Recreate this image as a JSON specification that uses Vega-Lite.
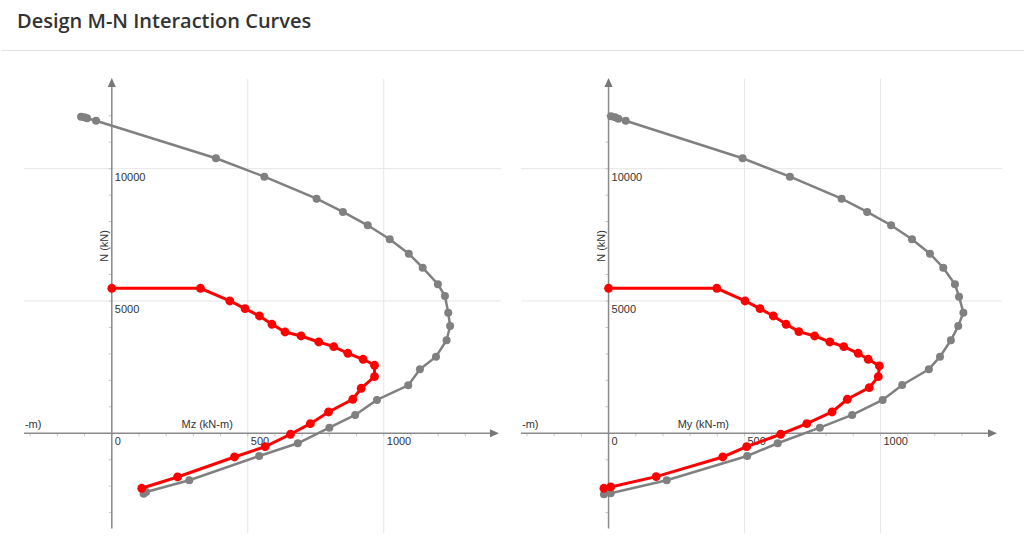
{
  "$schema": "https://vega.github.io/schema/vega-lite/v6.json",
  "background": "white",
  "padding": {"left": 0, "top": 11, "right": 0, "bottom": 0},
  "spacing": 23,
  "config": {"view": {"stroke": null}, "font": "Liberation Sans"},
  "datasets": {
    "left": [
      {"s": "n", "i": 1, "M": -113, "N": 11965}, {"s": "n", "i": 2, "M": -101, "N": 11942}, {"s": "n", "i": 3, "M": -91, "N": 11905}, {"s": "n", "i": 4, "M": -58, "N": 11814},
      {"s": "n", "i": 5, "M": 383, "N": 10393}, {"s": "n", "i": 6, "M": 561, "N": 9698}, {"s": "n", "i": 7, "M": 753, "N": 8866}, {"s": "n", "i": 8, "M": 850, "N": 8364},
      {"s": "n", "i": 9, "M": 941, "N": 7861}, {"s": "n", "i": 10, "M": 1022, "N": 7332}, {"s": "n", "i": 11, "M": 1092, "N": 6788}, {"s": "n", "i": 12, "M": 1143, "N": 6258},
      {"s": "n", "i": 13, "M": 1199, "N": 5631}, {"s": "n", "i": 14, "M": 1225, "N": 5189}, {"s": "n", "i": 15, "M": 1237, "N": 4558}, {"s": "n", "i": 16, "M": 1244, "N": 4055},
      {"s": "n", "i": 17, "M": 1231, "N": 3515}, {"s": "n", "i": 18, "M": 1192, "N": 2895}, {"s": "n", "i": 19, "M": 1133, "N": 2419}, {"s": "n", "i": 20, "M": 1090, "N": 1814},
      {"s": "n", "i": 21, "M": 975, "N": 1259}, {"s": "n", "i": 22, "M": 895, "N": 692}, {"s": "n", "i": 23, "M": 800, "N": 212}, {"s": "n", "i": 24, "M": 684, "N": -378},
      {"s": "n", "i": 25, "M": 542, "N": -858}, {"s": "n", "i": 26, "M": 285, "N": -1776}, {"s": "n", "i": 27, "M": 126, "N": -2218}, {"s": "n", "i": 28, "M": 117, "N": -2283},
      {"s": "d", "i": 1, "M": 0, "N": 5480}, {"s": "d", "i": 2, "M": 326, "N": 5480}, {"s": "d", "i": 3, "M": 434, "N": 5000}, {"s": "d", "i": 4, "M": 490, "N": 4709},
      {"s": "d", "i": 5, "M": 543, "N": 4433}, {"s": "d", "i": 6, "M": 589, "N": 4119}, {"s": "d", "i": 7, "M": 637, "N": 3828}, {"s": "d", "i": 8, "M": 696, "N": 3677},
      {"s": "d", "i": 9, "M": 761, "N": 3450}, {"s": "d", "i": 10, "M": 816, "N": 3273}, {"s": "d", "i": 11, "M": 868, "N": 3023}, {"s": "d", "i": 12, "M": 924, "N": 2797},
      {"s": "d", "i": 13, "M": 966, "N": 2570}, {"s": "d", "i": 14, "M": 966, "N": 2139}, {"s": "d", "i": 15, "M": 917, "N": 1701}, {"s": "d", "i": 16, "M": 886, "N": 1285},
      {"s": "d", "i": 17, "M": 797, "N": 805}, {"s": "d", "i": 18, "M": 730, "N": 363}, {"s": "d", "i": 19, "M": 657, "N": -38}, {"s": "d", "i": 20, "M": 564, "N": -506},
      {"s": "d", "i": 21, "M": 451, "N": -896}, {"s": "d", "i": 22, "M": 242, "N": -1652}, {"s": "d", "i": 23, "M": 110, "N": -2079}
    ],
    "right": [
      {"s": "n", "i": 1, "M": 9, "N": 11980}, {"s": "n", "i": 2, "M": 24, "N": 11942}, {"s": "n", "i": 3, "M": 36, "N": 11890}, {"s": "n", "i": 4, "M": 63, "N": 11814},
      {"s": "n", "i": 5, "M": 493, "N": 10393}, {"s": "n", "i": 6, "M": 667, "N": 9698}, {"s": "n", "i": 7, "M": 857, "N": 8866}, {"s": "n", "i": 8, "M": 951, "N": 8364},
      {"s": "n", "i": 9, "M": 1039, "N": 7861}, {"s": "n", "i": 10, "M": 1116, "N": 7332}, {"s": "n", "i": 11, "M": 1182, "N": 6788}, {"s": "n", "i": 12, "M": 1231, "N": 6258},
      {"s": "n", "i": 13, "M": 1274, "N": 5631}, {"s": "n", "i": 14, "M": 1289, "N": 5162}, {"s": "n", "i": 15, "M": 1305, "N": 4558}, {"s": "n", "i": 16, "M": 1286, "N": 4055},
      {"s": "n", "i": 17, "M": 1259, "N": 3515}, {"s": "n", "i": 18, "M": 1219, "N": 2895}, {"s": "n", "i": 19, "M": 1178, "N": 2419}, {"s": "n", "i": 20, "M": 1080, "N": 1826},
      {"s": "n", "i": 21, "M": 1008, "N": 1259}, {"s": "n", "i": 22, "M": 896, "N": 692}, {"s": "n", "i": 23, "M": 777, "N": 212}, {"s": "n", "i": 24, "M": 622, "N": -378},
      {"s": "n", "i": 25, "M": 510, "N": -858}, {"s": "n", "i": 26, "M": 214, "N": -1776}, {"s": "n", "i": 27, "M": 8, "N": -2268}, {"s": "n", "i": 28, "M": -17, "N": -2305},
      {"s": "d", "i": 1, "M": 0, "N": 5480}, {"s": "d", "i": 2, "M": 398, "N": 5480}, {"s": "d", "i": 3, "M": 502, "N": 5000}, {"s": "d", "i": 4, "M": 557, "N": 4709},
      {"s": "d", "i": 5, "M": 606, "N": 4433}, {"s": "d", "i": 6, "M": 653, "N": 4119}, {"s": "d", "i": 7, "M": 700, "N": 3840}, {"s": "d", "i": 8, "M": 758, "N": 3677},
      {"s": "d", "i": 9, "M": 814, "N": 3450}, {"s": "d", "i": 10, "M": 865, "N": 3273}, {"s": "d", "i": 11, "M": 918, "N": 3023}, {"s": "d", "i": 12, "M": 955, "N": 2797},
      {"s": "d", "i": 13, "M": 996, "N": 2543}, {"s": "d", "i": 14, "M": 992, "N": 2139}, {"s": "d", "i": 15, "M": 959, "N": 1723}, {"s": "d", "i": 16, "M": 878, "N": 1285},
      {"s": "d", "i": 17, "M": 822, "N": 805}, {"s": "d", "i": 18, "M": 729, "N": 363}, {"s": "d", "i": 19, "M": 633, "N": -38}, {"s": "d", "i": 20, "M": 508, "N": -506},
      {"s": "d", "i": 21, "M": 420, "N": -896}, {"s": "d", "i": 22, "M": 175, "N": -1640}, {"s": "d", "i": 23, "M": 8, "N": -2029}, {"s": "d", "i": 24, "M": -17, "N": -2079}
    ],
    "xt": [
      {"M": -300, "N": 0}, {"M": -200, "N": 0}, {"M": -100, "N": 0}, {"M": 100, "N": 0}, {"M": 200, "N": 0}, {"M": 300, "N": 0}, {"M": 400, "N": 0},
      {"M": 500, "N": 0}, {"M": 600, "N": 0}, {"M": 700, "N": 0}, {"M": 800, "N": 0}, {"M": 900, "N": 0}, {"M": 1000, "N": 0}, {"M": 1100, "N": 0},
      {"M": 1200, "N": 0}, {"M": 1300, "N": 0}
    ],
    "yt": [
      {"M": 0, "N": -3000}, {"M": 0, "N": -2000}, {"M": 0, "N": -1000}, {"M": 0, "N": 1000}, {"M": 0, "N": 2000}, {"M": 0, "N": 3000},
      {"M": 0, "N": 4000}, {"M": 0, "N": 5000}, {"M": 0, "N": 6000}, {"M": 0, "N": 7000}, {"M": 0, "N": 8000}, {"M": 0, "N": 9000},
      {"M": 0, "N": 10000}, {"M": 0, "N": 11000}, {"M": 0, "N": 12000}
    ],
    "gh": [{"M": 0, "N": 5000}, {"M": 0, "N": 10000}],
    "gv": [{"M": 500, "N": 0}, {"M": 1000, "N": 0}],
    "lbl": [
      {"M": 0, "N": 0, "t": "0"}, {"M": 500, "N": 0, "t": "500"}, {"M": 1000, "N": 0, "t": "1000"},
      {"M": 0, "N": 5000, "t": "5000"}, {"M": 0, "N": 10000, "t": "10000"}
    ],
    "one": [{"M": 0, "N": 0}]
  },
  "vconcat": [
    {
      "width": 1024,
      "height": 0.01,
      "view": {"stroke": "#e2e2e2", "strokeWidth": 1},
      "title": {"text": "Design M-N Interaction Curves", "anchor": "start", "dx": 16, "font": "Open Sans", "fontSize": 20, "fontWeight": 600, "color": "#333333", "baseline": "alphabetic", "offset": -1},
      "data": {"name": "one"},
      "mark": {"type": "point", "opacity": 0},
      "encoding": {}
    },
    {
      "spacing": 18,
      "hconcat": [
        {
          "width": 500,
          "height": 454,
          "encoding": {
            "x": {"field": "M", "type": "quantitative", "scale": {"domain": [-407.4, 1431.1], "nice": false, "zero": false}, "axis": null},
            "y": {"field": "N", "type": "quantitative", "scale": {"domain": [-3770, 13390], "nice": false, "zero": false}, "axis": null}
          },
          "layer": [
            {"data": {"name": "gh"}, "mark": {"type": "rule", "color": "#e6e6e6", "strokeWidth": 1},
             "encoding": {"x": {"datum": -323}, "x2": {"datum": 1431}}},
            {"data": {"name": "gv"}, "mark": {"type": "rule", "color": "#e6e6e6", "strokeWidth": 1},
             "encoding": {"y": {"datum": -3770}, "y2": {"datum": 13390}}},
            {"data": {"name": "xt"}, "mark": {"type": "rule", "color": "#c4c4c4", "strokeWidth": 1},
             "encoding": {"y": {"datum": 0}, "y2": {"datum": -115}}},
            {"data": {"name": "yt"}, "mark": {"type": "rule", "color": "#c4c4c4", "strokeWidth": 1},
             "encoding": {"x": {"datum": 0}, "x2": {"datum": -11}}},
            {"data": {"name": "one"}, "mark": {"type": "rule", "color": "#8a8a8a", "strokeWidth": 1.5},
             "encoding": {"x": {"datum": -323}, "x2": {"datum": 1400}}},
            {"data": {"name": "one"}, "mark": {"type": "rule", "color": "#8a8a8a", "strokeWidth": 1.5},
             "encoding": {"y": {"datum": -3600}, "y2": {"datum": 13200}}},
            {"data": {"name": "one"}, "mark": {"type": "point", "shape": "M0,-1L0.9,1L-0.9,1Z", "size": 81, "filled": true, "color": "#777777", "opacity": 1},
             "encoding": {"y": {"datum": 13258}}},
            {"data": {"name": "one"}, "mark": {"type": "point", "shape": "M1,0L-1,0.9L-1,-0.9Z", "size": 81, "filled": true, "color": "#777777", "opacity": 1},
             "encoding": {"x": {"datum": 1407}}},
            {"data": {"name": "lbl"}, "mark": {"type": "text", "align": "left", "baseline": "top", "dx": 3, "dy": 3, "fontSize": 11, "fill": "#333333"},
             "encoding": {"text": {"field": "t"}}},
            {"data": {"name": "one"}, "mark": {"type": "text", "align": "right", "baseline": "alphabetic", "dy": -5, "fontSize": 11, "fill": "#333333"},
             "encoding": {"x": {"datum": 445}, "text": {"value": "Mz (kN-m)"}}},
            {"data": {"name": "one"}, "mark": {"type": "text", "align": "left", "baseline": "alphabetic", "dx": 1, "dy": -5, "fontSize": 11, "fill": "#333333"},
             "encoding": {"x": {"datum": -323}, "text": {"value": "-m)"}}},
            {"data": {"name": "one"}, "mark": {"type": "text", "align": "center", "baseline": "alphabetic", "angle": 270, "dy": -4, "fontSize": 11, "fill": "#333333"},
             "encoding": {"y": {"datum": 7080}, "text": {"value": "N (kN)"}}},
            {"data": {"name": "left"}, "transform": [{"filter": "datum.s == 'n'"}], "mark": {"type": "line", "color": "#808080", "strokeWidth": 2.5},
             "encoding": {"order": {"field": "i", "type": "quantitative"}}},
            {"data": {"name": "left"}, "transform": [{"filter": "datum.s == 'n'"}], "mark": {"type": "point", "filled": true, "color": "#808080", "size": 64, "opacity": 1}},
            {"data": {"name": "left"}, "transform": [{"filter": "datum.s == 'd'"}], "mark": {"type": "line", "color": "#ff0000", "strokeWidth": 3},
             "encoding": {"order": {"field": "i", "type": "quantitative"}}},
            {"data": {"name": "left"}, "transform": [{"filter": "datum.s == 'd'"}], "mark": {"type": "point", "filled": true, "color": "#ff0000", "size": 78, "opacity": 1}}
          ]
        },
        {
          "width": 481,
          "height": 454,
          "encoding": {
            "x": {"field": "M", "type": "quantitative", "scale": {"domain": [-322, 1447], "nice": false, "zero": false}, "axis": null},
            "y": {"field": "N", "type": "quantitative", "scale": {"domain": [-3770, 13390], "nice": false, "zero": false}, "axis": null}
          },
          "layer": [
            {"data": {"name": "gh"}, "mark": {"type": "rule", "color": "#e6e6e6", "strokeWidth": 1},
             "encoding": {"x": {"datum": -322}, "x2": {"datum": 1447}}},
            {"data": {"name": "gv"}, "mark": {"type": "rule", "color": "#e6e6e6", "strokeWidth": 1},
             "encoding": {"y": {"datum": -3770}, "y2": {"datum": 13390}}},
            {"data": {"name": "xt"}, "mark": {"type": "rule", "color": "#c4c4c4", "strokeWidth": 1},
             "encoding": {"y": {"datum": 0}, "y2": {"datum": -115}}},
            {"data": {"name": "yt"}, "mark": {"type": "rule", "color": "#c4c4c4", "strokeWidth": 1},
             "encoding": {"x": {"datum": 0}, "x2": {"datum": -11}}},
            {"data": {"name": "one"}, "mark": {"type": "rule", "color": "#8a8a8a", "strokeWidth": 1.5},
             "encoding": {"x": {"datum": -322}, "x2": {"datum": 1405}}},
            {"data": {"name": "one"}, "mark": {"type": "rule", "color": "#8a8a8a", "strokeWidth": 1.5},
             "encoding": {"y": {"datum": -3600}, "y2": {"datum": 13200}}},
            {"data": {"name": "one"}, "mark": {"type": "point", "shape": "M0,-1L0.9,1L-0.9,1Z", "size": 81, "filled": true, "color": "#777777", "opacity": 1},
             "encoding": {"y": {"datum": 13258}}},
            {"data": {"name": "one"}, "mark": {"type": "point", "shape": "M1,0L-1,0.9L-1,-0.9Z", "size": 81, "filled": true, "color": "#777777", "opacity": 1},
             "encoding": {"x": {"datum": 1412}}},
            {"data": {"name": "lbl"}, "mark": {"type": "text", "align": "left", "baseline": "top", "dx": 3, "dy": 3, "fontSize": 11, "fill": "#333333"},
             "encoding": {"text": {"field": "t"}}},
            {"data": {"name": "one"}, "mark": {"type": "text", "align": "right", "baseline": "alphabetic", "dy": -5, "fontSize": 11, "fill": "#333333"},
             "encoding": {"x": {"datum": 443}, "text": {"value": "My (kN-m)"}}},
            {"data": {"name": "one"}, "mark": {"type": "text", "align": "left", "baseline": "alphabetic", "dx": 1, "dy": -5, "fontSize": 11, "fill": "#333333"},
             "encoding": {"x": {"datum": -322}, "text": {"value": "-m)"}}},
            {"data": {"name": "one"}, "mark": {"type": "text", "align": "center", "baseline": "alphabetic", "angle": 270, "dy": -4, "fontSize": 11, "fill": "#333333"},
             "encoding": {"y": {"datum": 7080}, "text": {"value": "N (kN)"}}},
            {"data": {"name": "right"}, "transform": [{"filter": "datum.s == 'n'"}], "mark": {"type": "line", "color": "#808080", "strokeWidth": 2.5},
             "encoding": {"order": {"field": "i", "type": "quantitative"}}},
            {"data": {"name": "right"}, "transform": [{"filter": "datum.s == 'n'"}], "mark": {"type": "point", "filled": true, "color": "#808080", "size": 64, "opacity": 1}},
            {"data": {"name": "right"}, "transform": [{"filter": "datum.s == 'd'"}], "mark": {"type": "line", "color": "#ff0000", "strokeWidth": 3},
             "encoding": {"order": {"field": "i", "type": "quantitative"}}},
            {"data": {"name": "right"}, "transform": [{"filter": "datum.s == 'd'"}], "mark": {"type": "point", "filled": true, "color": "#ff0000", "size": 78, "opacity": 1}}
          ]
        }
      ]
    }
  ]
}
